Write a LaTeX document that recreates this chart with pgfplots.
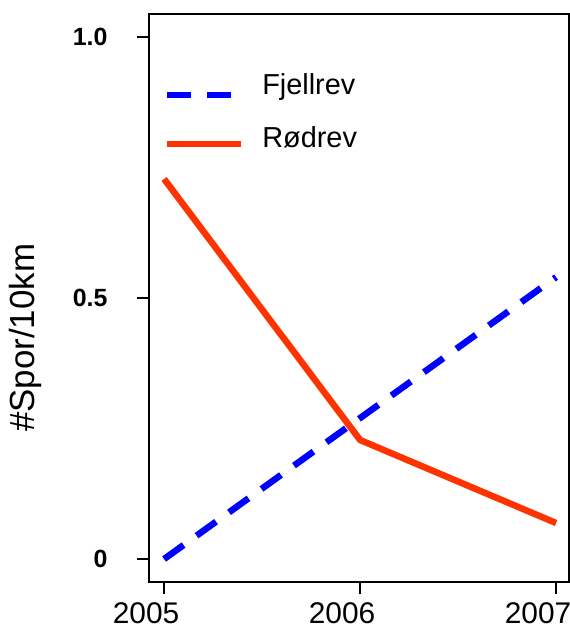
\documentclass[border=0pt]{standalone}
\usepackage{pgfplots}
\pgfplotsset{compat=1.18}
\usepackage{fontspec}
\setmainfont{Liberation Sans}
\definecolor{fjell}{RGB}{0,0,255}
\definecolor{rod}{RGB}{255,51,0}
\pgfplotsset{
  fjellimg/.style={legend image code/.code={\draw[##1] (0bp,0bp) -- (64bp,0bp); \path[draw=none,fill=none] (0bp,0bp) -- (95bp,0bp);}},
  rodimg/.style={legend image code/.code={\draw[##1] (0bp,3bp) -- (74bp,3bp); \path[draw=none,fill=none] (0bp,0bp) -- (95bp,0bp);}},
}
\begin{document}
\begin{tikzpicture}[x=1bp,y=1bp]
\begin{axis}[
  at={(0,0)}, anchor=south west,
  width=420bp, height=568bp, scale only axis,
  xmin=2004.923, xmax=2007.066, ymin=-0.044, ymax=1.044,
  xtick={2005,2006,2007}, xticklabels={2005,2006,2007},
  ytick={0,0.5,1}, yticklabels={\textbf{0},\textbf{0.5}\hspace{5bp},\textbf{1.0}\hspace{-3bp}},
  tick align=outside, major tick length=12bp,
  xtick pos=bottom, ytick pos=left,
  axis line style={line width=1.5bp},
  every tick/.style={black, line width=1.5bp},
  x tick label style={font=\fontsize{30}{34}\selectfont, xshift=-18bp, yshift=-5bp},
  y tick label style={font=\fontsize{25}{28}\selectfont, anchor=east, xshift=-26bp},
  ylabel={\#Spor/10km},
  ylabel style={font=\fontsize{35}{40}\selectfont, at={(axis description cs:-0.295,0.43)}, anchor=center},
  legend style={draw=none, fill=none, at={(rel axis cs:0,1)}, anchor=north west,
    inner sep=0pt, outer sep=0pt,
    xshift=15bp, yshift=-60bp, row sep=28bp,
    nodes={font=\fontsize{29}{34}\selectfont, inner sep=0pt, anchor=base west}},
  legend cell align=left,
]
\addplot[color=fjell, line width=6.5bp, dash pattern=on 24bp off 16bp, fjellimg]
  coordinates {(2005,0) (2006,0.27) (2007,0.54)};
\addlegendentry{Fjellrev}
\addplot[color=rod, line width=6.5bp, rodimg]
  coordinates {(2005,0.728) (2006,0.228) (2007,0.069)};
\addlegendentry{Rødrev}
\end{axis}
\pgfresetboundingbox
\path[use as bounding box] (-149,-48) rectangle (421,582);
\end{tikzpicture}
\end{document}
